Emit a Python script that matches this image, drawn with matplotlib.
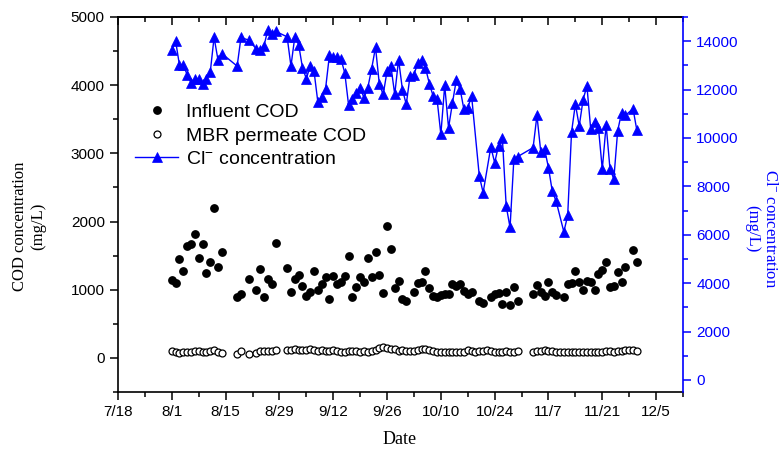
import matplotlib.pyplot as plt
from matplotlib.ticker import MultipleLocator

plt.rcParams['font.family'] = ['Liberation Sans', 'DejaVu Sans']
plt.rcParams['mathtext.default'] = 'regular'

# x axis: days counted from 7/18
tick_days = [0, 14, 28, 42, 56, 70, 84, 98, 112, 126, 140]
tick_labels = ['7/18', '8/1', '8/15', '8/29', '9/12', '9/26',
               '10/10', '10/24', '11/7', '11/21', '12/5']

# influent COD (mg/L)
influent_days = [14, 15, 16, 17, 18, 19, 20, 21, 22, 23, 24, 25, 26, 27,
                 31, 32, 34, 36, 37, 38, 39, 40, 41,
                 44, 45, 46, 47, 48, 49, 50, 51, 52, 53, 54, 55, 56, 57, 58,
                 59, 60, 61, 62, 63, 64, 65, 66, 67, 68, 69, 70, 71, 72, 73,
                 74, 75, 77, 78, 79, 80, 81, 82, 83, 84, 85, 86, 87, 88, 89,
                 90, 91, 92, 94, 95, 97, 98, 99, 100, 101, 102, 103, 104,
                 108, 109, 110, 111, 112, 113, 114, 116, 117, 118, 119, 120,
                 121, 122, 123, 124, 125, 126, 127, 128, 129, 130, 131, 132,
                 134, 135]
influent_cod = [1140, 1100, 1450, 1270, 1640, 1670, 1810, 1470, 1670, 1240,
                1410, 2200, 1340, 1560,
                900, 930, 1150, 1000, 1310, 900, 1160, 1080, 1680,
                1320, 960, 1150, 1210, 1060, 910, 970, 1280, 1000, 1090, 1180,
                870, 1200, 1090, 1120, 1200, 1490, 900, 1040, 1190, 1120, 1470,
                1190, 1550, 1220, 950, 1940, 1590, 1020, 1130,
                860, 840, 970, 1100, 1120, 1270, 1030, 910, 900, 920, 940, 930,
                1090, 1060, 1090, 980, 930, 960, 840, 810, 900, 940, 950, 790,
                970, 780, 1040, 830,
                940, 1070, 970, 910, 1110, 960, 920, 890, 1080, 1100, 1270,
                1110, 1000, 1130, 1110, 1000, 1230, 1290, 1410, 1040, 1060,
                1260, 1120, 1330, 1580, 1400]

# MBR permeate COD (mg/L)
permeate_days = ([14, 15, 16, 17, 18, 19, 20, 21, 22, 23, 24, 25, 26, 27]
                 + [31, 32, 34, 36, 37, 38, 39, 40, 41]
                 + list(range(44, 105))
                 + list(range(108, 136)))
permeate_cod = [97, 82, 73, 87, 87, 82, 97, 106, 82, 87, 97, 111, 87, 73,
                63, 97, 63, 73, 106, 106, 106, 97, 121,
                121, 121, 131, 121, 111, 121, 131, 111, 97, 111, 97, 97, 111,
                97, 82, 87, 97, 97, 97, 82, 97, 82, 106, 121, 145, 155, 145,
                131, 131, 106,
                110, 105, 100, 105, 120, 130, 125, 110, 95, 90, 85, 85, 90, 85,
                80, 85, 90, 115, 95, 90, 95, 105, 115, 100, 90, 80, 85, 95, 90,
                80, 95,
                85, 95, 105, 110, 100, 95, 90, 85, 90, 90, 85, 90, 90, 85, 90,
                90, 85, 90, 90, 95, 95, 90, 95, 105, 115, 120, 110, 95]

# Cl- concentration (mg/L)
cl_days = [14, 15, 16, 17, 18, 19, 20, 21, 22, 23, 24, 25, 26, 27,
           31, 32, 34, 36, 37, 38, 39, 40, 41,
           44, 45, 46, 47, 48, 49, 50, 51, 52, 53, 54, 55, 56, 57, 58, 59,
           60, 61, 62, 63, 64, 65, 66, 67, 68, 69, 70, 71, 72, 73,
           74, 75, 76, 77, 78, 79, 80, 81, 82, 83, 84, 85, 86, 87, 88, 89,
           90, 91, 92, 94, 95, 97, 98, 99, 100, 101, 102, 103, 104,
           108, 109, 110, 111, 112, 113, 114, 116, 117, 118, 119, 120, 121,
           122, 123, 124, 125, 126, 127, 128, 129, 130, 131, 132, 134, 135]
cl_conc = [13650, 14000, 13000, 13000, 12620, 12280, 12420, 12420, 12210,
           12420, 12720, 14160, 13240, 13490,
           12970, 14160, 14040, 13680, 13650, 13820, 14480, 14310, 14410,
           14180, 12970, 14180, 13860, 12900, 12450, 12970, 12760, 11480,
           11700, 12030, 13410, 13350, 13350, 13270, 12690, 11350, 11590,
           11840, 12080, 11660, 12080, 12870, 13750, 12210, 11800, 12760,
           12970, 11800, 13240,
           12000, 11390, 12580, 12620, 13100, 13220, 12900, 12250, 11730,
           11620, 10150, 12170, 10420, 11430, 12380, 12030, 11180, 11250,
           11730, 8430, 7740, 9630, 8980, 9670, 10000, 7190, 6300, 9140, 9230,
           9600, 10930, 9420, 9530, 8770, 7790, 7380, 6120, 6800, 10240,
           11400, 10490, 11580, 12150, 10350, 10640, 10420, 8710, 10540, 8730,
           8300, 10290, 11040, 10930, 11210, 10310]

fig = plt.figure(figsize=(7.84, 4.5), dpi=100)
ax = fig.add_axes([118 / 784, 58 / 450, 565 / 784, 375 / 450])
ax2 = ax.twinx()

ax.plot(influent_days, influent_cod, 'o', color='black', ms=5.3,
        ls='none', label='Influent COD')
ax.plot(permeate_days, permeate_cod, 'o', mfc='white', mec='black', ms=5,
        mew=0.9, ls='none', label='MBR permeate COD')
ax2.plot(cl_days, cl_conc, '-^', color='blue', lw=1, ms=7.5, mew=0.5,
         label='Cl$^{-}$ concentration')

# left axis / bottom axis
ax.set_xlim(0, 147)
ax.set_xticks(tick_days)
ax.set_xticklabels(tick_labels)
ax.xaxis.set_minor_locator(MultipleLocator(7))
ax.set_ylim(-500, 5000)
ax.yaxis.set_major_locator(MultipleLocator(1000))
ax.yaxis.set_minor_locator(MultipleLocator(500))
ax.tick_params(which='major', direction='out', length=6, width=1.1,
               labelsize=11)
ax.tick_params(which='minor', direction='out', length=3.5, width=1.1)
ax.spines['right'].set_visible(False)
for s in ['left', 'bottom', 'top']:
    ax.spines[s].set_linewidth(1.2)

# ticks on the top edge point inwards
top = ax.secondary_xaxis('top')
top.set_xticks(tick_days)
top.xaxis.set_minor_locator(MultipleLocator(7))
top.tick_params(which='both', direction='in', labeltop=False, width=1.1)
top.tick_params(which='major', length=6)
top.tick_params(which='minor', length=3.5)
top.spines['top'].set_linewidth(1.2)

# right axis in blue
ax2.set_ylim(-500, 15000)
ax2.yaxis.set_major_locator(MultipleLocator(2000))
ax2.yaxis.set_minor_locator(MultipleLocator(1000))
ax2.tick_params(which='both', colors='blue', direction='out', width=1.1)
ax2.tick_params(which='major', length=6, labelsize=11)
ax2.tick_params(which='minor', length=3.5)
ax2.spines['right'].set_color('blue')
ax2.spines['right'].set_linewidth(1.2)
for s in ['left', 'bottom', 'top']:
    ax2.spines[s].set_visible(False)

# axis titles
fig.text(29 / 784, 1 - 226 / 450, 'COD concentration\n(mg/L)',
         rotation=90, ha='center', va='center', multialignment='center',
         family=['Liberation Serif'], fontsize=12)
fig.text(761 / 784, 1 - 229 / 450, 'Cl$^{-}$ concentration\n(mg/L)',
         rotation=270, ha='center', va='center', multialignment='center',
         family=['Liberation Serif'], fontsize=12, color='blue')
fig.text(400 / 784, 1 - 440 / 450, 'Date', ha='center', va='center',
         family=['Liberation Serif'], fontsize=13)

h1, l1 = ax.get_legend_handles_labels()
h2, l2 = ax2.get_legend_handles_labels()
ax2.legend(h1 + h2, l1 + l2, loc='upper left', bbox_to_anchor=(0.017, 0.79),
           frameon=False, fontsize=14, handlelength=2.2, handletextpad=0.4,
           labelspacing=0.3, borderaxespad=0)

fig.savefig('out.png', dpi=100)
